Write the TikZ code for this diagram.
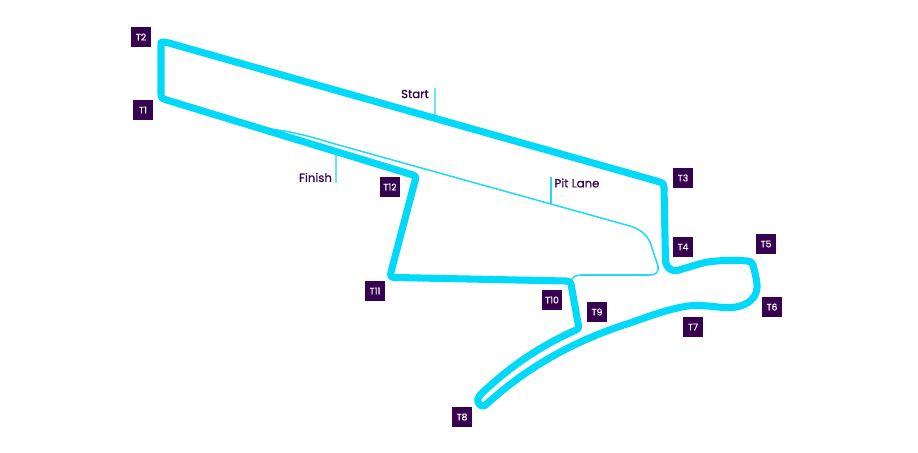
\documentclass[tikz,border=0pt]{standalone}
\usepackage{fontspec}
\setmainfont{Poppins}
\newfontfamily\heavyface[FakeBold=0.6]{Poppins}
\definecolor{track}{HTML}{00D9FA}
\definecolor{pit}{HTML}{22DAF2}
\definecolor{lead}{HTML}{6FE3F0}
\definecolor{tag}{HTML}{37024F}
\tikzset{
  trackline/.style={draw=track,line width=5.3pt,line join=round,line cap=round},
  pitline/.style={draw=pit,line width=1.15pt,line join=round},
  leadline/.style={draw=lead,line width=0.9pt},
  turn/.style={fill=tag,text=white,minimum size=14.5pt,inner sep=0pt,font=\heavyface\fontsize{6.9pt}{7pt}\selectfont},
  lab/.style={text=tag,inner sep=0pt,font=\heavyface\fontsize{8.8pt}{10pt}\selectfont}
}
\begin{document}
\begin{tikzpicture}[x=0.75pt,y=-0.75pt]
\useasboundingbox[fill=white] (0,0) rectangle (918,453);
% leaders
\coordinate (starttop) at (435,88);
\coordinate (startfoot) at (435,117);
\coordinate (finishtop) at (336,155);
\coordinate (finishfoot) at (336,183);
\coordinate (pittop) at (551,177);
\coordinate (pitfoot) at (551,204);
\draw[leadline] (starttop) -- (startfoot);
\draw[leadline] (finishtop) -- (finishfoot);
\draw[pitline] (pittop) -- (pitfoot);
% pit lane
\draw[pitline] (270,129) .. controls (295,132) and (312,137) .. (335,144)
  -- (630,226) .. controls (642,230) and (649,236) .. (652,248)
  -- (658,266) .. controls (659,272) and (656,275) .. (650,275)
  -- (582,275) .. controls (577,275) and (574,276) .. (571,280);
% track
\draw[trackline] (163,42) .. controls (161,41.5) and (161,43) .. (161,45)
  -- (161,94) .. controls (161,97) and (161,98) .. (165,99.5)
  -- (413,175) .. controls (416,176) and (416,177) .. (415.5,179)
  -- (391,272) .. controls (390,276) and (391,277.5) .. (395,277.5)
  -- (566,281) .. controls (569,281) and (570,282) .. (571,284)
  -- (578.5,326) .. controls (579,328) and (578,329) .. (576,330)
  .. controls (545,344) and (515,362) .. (482,393)
  .. controls (479,396) and (477,399) .. (478,402)
  .. controls (480,406) and (483,407) .. (485,405.5)
  .. controls (515,378) and (560,345) .. (630,323)
  .. controls (650,316) and (668,309) .. (688,306)
  .. controls (705,304) and (720,308.5) .. (732,307.5)
  .. controls (745,306.5) and (756,300) .. (757,288)
  .. controls (757.5,282) and (755,273) .. (753,265)
  .. controls (752,262) and (750,261) .. (747,261)
  .. controls (735,260) and (722,260) .. (708,262)
  .. controls (697,264) and (687,268) .. (677,270.5)
  .. controls (671,271.5) and (667,268) .. (665.5,262)
  -- (664,187) .. controls (664,184) and (663,183) .. (660,182)
  -- (167,42.5) -- cycle;
% labels
\node[lab] (start) at (415,94) {Start};
\node[lab] (finish) at (315.5,177.5) {Finish};
\node[lab] (pitlane) at (577,183) {Pit Lane};
% turn tags
\node[turn] (t1) at (143,110) {T1};
\node[turn] (t2) at (141,37) {T2};
\node[turn] (t3) at (683,178) {T3};
\node[turn] (t4) at (683,247) {T4};
\node[turn] (t5) at (766,244) {T5};
\node[turn] (t6) at (772,307) {T6};
\node[turn] (t7) at (693,327) {T7};
\node[turn] (t8) at (462,417) {T8};
\node[turn] (t9) at (597,312) {T9};
\node[turn] (t10) at (552,300) {T10};
\node[turn] (t11) at (375,291) {T11};
\node[turn] (t12) at (390,187) {T12};
\end{tikzpicture}
\end{document}
